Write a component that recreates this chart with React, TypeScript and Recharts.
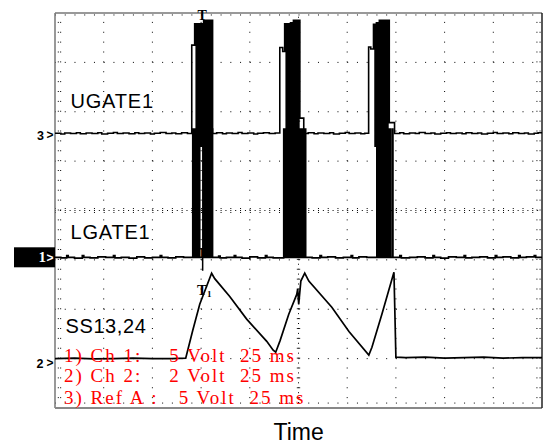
import { LineChart, Line, XAxis, YAxis, ReferenceLine } from "recharts";

// time in ms (25 ms / div, 10 div), level in screen divisions (0..8)
const uGate: [number, number][] = [
  [0, 5.565], [3, 5.55], [5, 5.57], [8, 5.56], [11, 5.575], [13, 5.555], [16, 5.57], [19, 5.56],
  [22, 5.575], [24, 5.55], [27, 5.565], [30, 5.58], [32, 5.56], [35, 5.57], [38, 5.555],
  [41, 5.575], [43, 5.56], [46, 5.57], [49, 5.55], [51, 5.565], [54, 5.58], [57, 5.56],
  [60, 5.57], [62, 5.555], [65, 5.575], [68, 5.56],
  [70.2, 7.35],
  [71.7, 7.78], [72.5, 5.3], [73.2, 7.78], [74.0, 5.3], [74.7, 7.78], [75.5, 5.3], [76.3, 7.85],
  [77.1, 5.3], [77.8, 7.85], [78.6, 5.3], [79.3, 7.85], [80.1, 5.3], [80.5, 7.85],
  [80.9, 5.56], [83, 5.575], [86, 5.555], [88, 5.57], [91, 5.56], [94, 5.58], [96, 5.56],
  [99, 5.57], [102, 5.55], [104, 5.565], [107, 5.575], [110, 5.56], [113, 5.57],
  [115.4, 7.3], [116.9, 7.22],
  [117.9, 7.78], [118.7, 5.3], [119.4, 7.78], [120.2, 5.3], [120.9, 7.8], [121.7, 5.3],
  [122.4, 7.85], [123.2, 5.3], [123.9, 7.85], [124.7, 5.3], [125.2, 7.85],
  [125.7, 5.87], [127.7, 5.56], [130, 5.575], [133, 5.555], [135, 5.57], [138, 5.56],
  [141, 5.575], [143, 5.55], [146, 5.565], [149, 5.58], [151, 5.56], [154, 5.57], [157, 5.555],
  [159, 5.565],
  [161.0, 7.31], [162.1, 7.27],
  [163.5, 7.77], [164.3, 5.3], [165.0, 7.8], [165.8, 5.3], [166.5, 7.85], [167.3, 5.3],
  [168.0, 7.85], [168.8, 5.3], [169.5, 7.85], [170.3, 5.3], [170.9, 7.85],
  [171.6, 5.78], [174.3, 5.56], [177, 5.575], [179, 5.555], [182, 5.57], [185, 5.56],
  [187, 5.58], [190, 5.56], [193, 5.57], [195, 5.55], [198, 5.565], [201, 5.575], [203, 5.56],
  [206, 5.57], [209, 5.555], [211, 5.575], [214, 5.56], [217, 5.57], [219, 5.55], [222, 5.565],
  [225, 5.58], [227, 5.56], [230, 5.57], [233, 5.555], [235, 5.575], [238, 5.56], [241, 5.57],
  [243, 5.55], [246, 5.565], [248, 5.575], [250, 5.56],
];

const lGate: [number, number][] = [
  [0, 3.05], [3, 3.04], [6, 3.09], [6.8, 3.05], [10, 3.035], [14, 3.09], [14.8, 3.05], [18, 3.04],
  [22, 3.06], [26, 3.05], [30, 3.09], [30.8, 3.04], [34, 3.05], [38, 3.035], [42, 3.06],
  [46, 3.04], [50, 3.05], [54, 3.09], [54.8, 3.05], [58, 3.04], [62, 3.06], [66, 3.05],
  [70.7, 5.65], [71.4, 3.05], [72.1, 5.65], [72.9, 3.05], [73.6, 5.65], [74.3, 3.05], [75.9, 5.65],
  [76.6, 3.05], [77.3, 5.65], [78.1, 3.05], [78.8, 5.65], [79.6, 3.05], [80.3, 5.65],
  [80.9, 3.05], [84, 3.08], [84.8, 3.04], [88, 3.05], [92, 3.09], [92.8, 3.05], [96, 3.035],
  [100, 3.06], [104, 3.04], [108, 3.09], [108.8, 3.05], [112, 3.04],
  [117.4, 5.65], [118.2, 3.05], [118.9, 5.65], [119.7, 3.05], [120.4, 5.65], [121.2, 3.05],
  [121.9, 5.65], [122.7, 3.05], [123.4, 5.65], [124.2, 3.05], [124.9, 5.65], [125.7, 3.05],
  [126.4, 5.65], [127.2, 3.05], [127.9, 5.65],
  [128.7, 3.05], [132, 3.04], [136, 3.09], [136.8, 3.05], [140, 3.06], [144, 3.04], [148, 3.05],
  [152, 3.09], [152.8, 3.04], [156, 3.06], [160, 3.05],
  [165.2, 5.65], [166.0, 3.05], [166.7, 5.65], [167.5, 3.05], [168.2, 5.65], [169.0, 3.05],
  [169.7, 5.65], [170.5, 3.05], [171.1, 5.65], [171.7, 3.05], [172.0, 5.65], [172.3, 3.05],
  [173.2, 5.65],
  [173.5, 3.05], [177, 3.09], [177.8, 3.04], [182, 3.05], [186, 3.06], [190, 3.04], [194, 3.09],
  [194.8, 3.05], [198, 3.035], [202, 3.06], [206, 3.05], [210, 3.09], [210.8, 3.04], [214, 3.05],
  [218, 3.06], [222, 3.04], [226, 3.09], [226.8, 3.05], [230, 3.06], [234, 3.04], [238, 3.09],
  [238.8, 3.05], [242, 3.06], [246, 3.09], [246.8, 3.05], [250, 3.05],
];

const softStart: [number, number][] = [
  [0, 1.0], [10, 1.01], [20, 0.995], [30, 1.0], [40, 1.01], [50, 1.0], [60, 1.0], [67.1, 1.01],
  [70.7, 1.57], [74.3, 2.1], [80.4, 2.73], [82.0, 2.62], [89.7, 2.26], [98.4, 1.8], [108.7, 1.35],
  [112.0, 1.17], [113.3, 1.13], [115.5, 1.36], [120.0, 1.9], [124.1, 2.3], [124.6, 2.41],
  [125.1, 2.1], [126.2, 2.57], [128.2, 2.73], [130.3, 2.57], [142.1, 2.04], [150.9, 1.55],
  [161.1, 1.07], [162.7, 1.23], [167.8, 1.9], [174.0, 2.75], [175.0, 1.03], [180, 1.02],
  [190, 1.03], [200, 1.01], [210, 1.02], [220, 1.03], [230, 1.01], [240, 1.02], [250, 1.02],
];

const gridTimes = [25, 50, 75, 100, 150, 175, 200, 225];
const gridLevels = [1, 2, 3, 5, 6, 7];
const settings = [
  "1) Ch 1:    5 Volt  25 ms",
  "2) Ch 2:    2 Volt  25 ms",
  "3) Ref A :   5 Volt  25 ms",
];

const toRows = (pts: [number, number][]) => pts.map(([t, v]) => ({ t, v }));

const SANS = "'Liberation Sans', Arial, sans-serif";
const SERIF = "'Liberation Serif', 'Times New Roman', serif";
const DOT_H = "1 8.74";
const DOT_V = "1 8.875";

export default function App() {
  return (
    <div style={{ position: "absolute", left: 0, top: 0, width: 544, height: 447, background: "#fff" }}>
      <LineChart width={544} height={447} margin={{ top: 13, right: 2, bottom: 39, left: 55 }}>
        <XAxis type="number" dataKey="t" domain={[0, 250]} hide allowDataOverflow />
        <YAxis type="number" domain={[0, 8]} hide allowDataOverflow />

        {gridTimes.map((t) => (
          <ReferenceLine key={"gx" + t} x={t} stroke="#000" strokeDasharray={DOT_V} />
        ))}
        {gridLevels.map((y) => (
          <ReferenceLine key={"gy" + y} y={y} stroke="#000" strokeDasharray={DOT_H} />
        ))}
        <ReferenceLine x={125} stroke="#000" strokeDasharray="1 3.94" />
        <ReferenceLine x={124.4} stroke="#000" strokeDasharray={DOT_V} />
        <ReferenceLine x={125.6} stroke="#000" strokeDasharray={DOT_V} />
        <ReferenceLine y={4} stroke="#000" strokeDasharray="1 3.87" />
        <ReferenceLine y={4.04} stroke="#000" strokeDasharray={DOT_H} />
        <ReferenceLine y={3.96} stroke="#000" strokeDasharray={DOT_H} />
        <ReferenceLine x={1.7} stroke="#000" strokeDasharray={DOT_V} />
        <ReferenceLine x={2.9} stroke="#000" strokeDasharray={DOT_V} />
        <ReferenceLine x={247.4} stroke="#000" strokeDasharray={DOT_V} />
        <ReferenceLine x={249.0} stroke="#000" strokeDasharray={DOT_V} />
        <ReferenceLine y={7.96} stroke="#000" strokeDasharray={DOT_H} />
        <ReferenceLine y={0.1} stroke="#000" strokeDasharray={DOT_H} />

        <ReferenceLine x={0} stroke="#777" strokeWidth={1.5} />
        <ReferenceLine y={0} stroke="#888" strokeWidth={2} />
        <ReferenceLine y={8} stroke="#777" strokeWidth={1.5} />
        <ReferenceLine x={250} stroke="#222" strokeWidth={1.5} />

        <ReferenceLine
          segment={[{ x: 75.8, y: 3.05 }, { x: 75.8, y: 2.78 }]}
          stroke="#000"
          strokeWidth={1.5}
        />

        <Line data={toRows(uGate)} dataKey="v" type="stepAfter" stroke="#000" strokeWidth={1.6}
          dot={false} activeDot={false} isAnimationActive={false} />
        <Line data={toRows(lGate)} dataKey="v" type="stepAfter" stroke="#000" strokeWidth={1.6}
          dot={false} activeDot={false} isAnimationActive={false} />
        <Line data={toRows(softStart)} dataKey="v" type="linear" stroke="#000" strokeWidth={1.7}
          dot={false} activeDot={false} isAnimationActive={false} />
      </LineChart>

      <svg width={544} height={447} style={{ position: "absolute", left: 0, top: 0, pointerEvents: "none" }}>
        <text x={70.5} y={108.3} fontFamily={SANS} fontSize={20} letterSpacing={0.8}>UGATE1</text>
        <text x={70.5} y={239} fontFamily={SANS} fontSize={20} letterSpacing={0.8}>LGATE1</text>
        <text x={65.5} y={333} fontFamily={SANS} fontSize={20} letterSpacing={0.6}>SS13,24</text>

        {settings.map((s, i) => (
          <text key={s} x={64} y={[362.3, 382.3, 404.3][i]} fontFamily={SERIF} fontSize={19}
            letterSpacing={2.0} fill="#ff0000" style={{ whiteSpace: "pre" }}>{s}</text>
        ))}

        <text x={273.5} y={440} fontFamily={SANS} fontSize={23}>Time</text>

        <text x={37} y={139.5} fontFamily={SANS} fontSize={12.5} fontWeight="bold">3</text>
        <text x={46.5} y={138.5} fontFamily={SANS} fontSize={12} fontWeight="bold">&gt;</text>

        <rect x={14} y={247.3} width={41} height={20} fill="#000" />
        <text x={38.5} y={262} fontFamily={SERIF} fontSize={15} fontWeight="bold" fill="#fff">1</text>
        <text x={46.5} y={262} fontFamily={SANS} fontSize={12} fontWeight="bold" fill="#fff">&gt;</text>

        <text x={36.5} y={368} fontFamily={SANS} fontSize={12.5} fontWeight="bold">2</text>
        <text x={46.5} y={367} fontFamily={SANS} fontSize={12} fontWeight="bold">&gt;</text>

        <text x={197.5} y={20} fontFamily={SERIF} fontSize={14} fontWeight="bold">T</text>
        <text x={197.5} y={257.5} fontFamily={SERIF} fontSize={14} fontWeight="bold">T</text>
        <text x={197} y={295} fontFamily={SERIF} fontSize={15} fontWeight="bold">T</text>
        <text x={207} y={297} fontFamily={SERIF} fontSize={9} fontWeight="bold">1</text>
      </svg>
    </div>
  );
}
